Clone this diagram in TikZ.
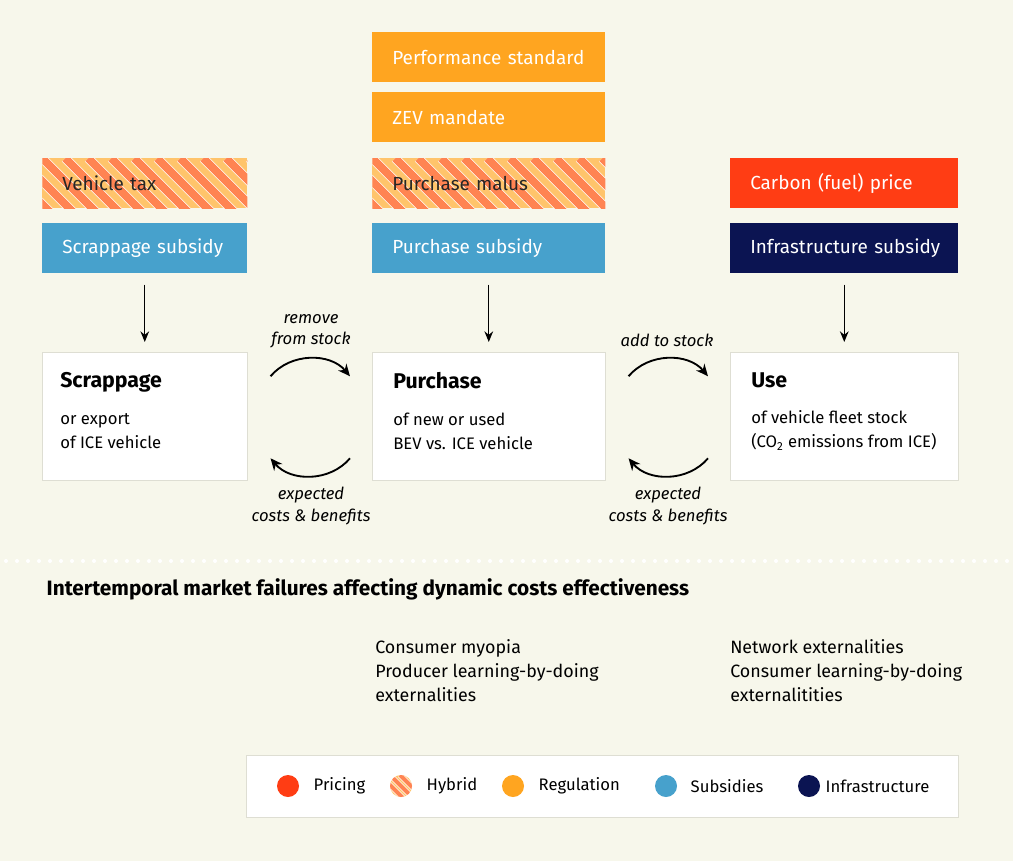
\documentclass[tikz,border=0pt]{standalone}
\usepackage{fontspec}
\setmainfont{Fira Sans}
\usetikzlibrary{arrows.meta}
\definecolor{paper}{HTML}{F7F7EB}
\definecolor{regul}{HTML}{FFA520}
\definecolor{pricing}{HTML}{FF3D14}
\definecolor{subs}{HTML}{47A1CC}
\definecolor{infra}{HTML}{0B1452}
\definecolor{hybdark}{HTML}{FF8452}
\definecolor{hyblight}{HTML}{FFC46B}
\definecolor{edge}{HTML}{DEDED3}
\newcommand{\stagettl}[1]{{\bfseries\fontsize{16}{18}\selectfont #1}}
\tikzset{
  policy/.style={anchor=north west, minimum height=37.5pt, inner xsep=15pt, inner ysep=0pt,
    align=left, text=white, font=\fontsize{14.2}{17}\selectfont},
  colA/.style={text width=123.75pt},
  colB/.style={text width=144.75pt},
  colC/.style={text width=141pt},
  hatch/.style n args={2}{fill=hyblight, path picture={
      \foreach \k in {-6,...,24}{
        \draw[white, line width=#2+1pt] ([xshift=\k*#1]path picture bounding box.north west) -- ++(70,70);
        \draw[hybdark, line width=#2] ([xshift=\k*#1]path picture bounding box.north west) -- ++(70,70);
      }}},
  stage/.style={anchor=north west, fill=white, draw=edge, minimum height=96pt},
  stagetxt/.style={anchor=north west, inner sep=0pt, align=left, font=\fontsize{12.5}{18}\selectfont},
  down/.style={->, >={Stealth[length=8pt,width=6.5pt]}, line width=1pt, shorten <=8.25pt, shorten >=7.5pt},
  cyc/.style={->, >={Stealth[length=9pt,width=8pt]}, line width=1.4pt},
  note/.style={align=center, font=\itshape\fontsize{12.5}{16}\selectfont},
  dot/.style={circle, minimum size=16.5pt, inner sep=0pt},
  lglbl/.style={anchor=west, font=\fontsize{12.5}{16}\selectfont}
}
\begin{document}
\begin{tikzpicture}[x=0.75pt,y=-0.75pt]
\useasboundingbox (0,0) rectangle (1013,861);
\fill[paper] (0,0) rectangle (1013,861);

%policy instruments
\node[policy, colA, hatch={17.25pt}{6pt}, text=black!85] (vtax) at (42,158) {Vehicle tax};
\node[policy, colA, fill=subs] (scrsub) at (42,223) {\mbox{Scrappage subsidy}};
\node[policy, colB, fill=regul] (perf) at (372,32) {\mbox{Performance standard}};
\node[policy, colB, fill=regul] (zev) at (372,92) {ZEV mandate};
\node[policy, colB, hatch={17.25pt}{6pt}, text=black!85] (malus) at (372,158) {Purchase malus};
\node[policy, colB, fill=subs] (pursub) at (372,223) {Purchase subsidy};
\node[policy, colC, fill=pricing] (carbon) at (730,158) {Carbon (fuel) price};
\node[policy, colC, fill=infra] (infsub) at (730,223) {\mbox{Infrastructure subsidy}};

%stages
\node[stage, minimum width=153.75pt] (scr) at (42,352) {};
\node[stage, minimum width=174.75pt] (pur) at (372,352) {};
\node[stage, minimum width=171pt] (use) at (730,352) {};
\node[stagetxt] (scrtxt) at (60,372) {\stagettl{Scrappage}\\[9.5pt]or export\\of ICE vehicle};
\node[stagetxt] (purtxt) at (393,372) {\stagettl{Purchase}\\[9.5pt]of new or used\\BEV vs. ICE vehicle};
\node[stagetxt] (usetxt) at (751,372) {\stagettl{Use}\\[9.5pt]of vehicle fleet stock\\(CO\textsubscript{2} emissions from ICE)};

\draw[down] (scrsub) -- (scr);
\draw[down] (pursub) -- (pur);
\draw[down] (infsub) -- (use);

%cycles between stages
\draw[cyc] ([shift={(23,-40)}]scr.east) to[bend left=50] ([shift={(-22,-40)}]pur.west);
\draw[cyc] ([shift={(-22,42)}]pur.west) to[bend left=50] ([shift={(23,42)}]scr.east);
\draw[cyc] ([shift={(23,-40)}]pur.east) to[bend left=50] ([shift={(-22,-40)}]use.west);
\draw[cyc] ([shift={(-22,42)}]use.west) to[bend left=50] ([shift={(23,42)}]pur.east);
\node[note] (rmv) at (311,331) {remove\\from stock};
\node[note] (exp1) at (311,506) {expected\\costs \& benefits};
\node[note] (add) at (667,340) {add to stock};
\node[note] (exp2) at (668,506) {expected\\costs \& benefits};

\draw[white, line width=3pt, line cap=round, dash pattern=on 0pt off 8.25pt] (6,561) -- (1013,561);

%market failures
\node[anchor=west, font=\bfseries\fontsize{15.6}{18}\selectfont] (head) at (42,589)
  {Intertemporal market failures affecting dynamic costs effectiveness};
\node[anchor=north west, align=left, inner sep=0pt, font=\fontsize{13.4}{18}\selectfont] (mfpur) at (375,639)
  {Consumer myopia\\Producer learning-by-doing\\externalities};
\node[anchor=north west, align=left, inner sep=0pt, font=\fontsize{13.4}{18}\selectfont] (mfuse) at (730,639)
  {Network externalities\\Consumer learning-by-doing\\externalitities};

%legend
\node[anchor=north west, fill=white, draw=edge, minimum width=534pt, minimum height=46.5pt] (legend) at (246,755) {};
\node[dot, fill=pricing] (lgpr) at (288,786) {};
\node[dot, hatch={7.5pt}{3pt}] (lghy) at (401,786) {};
\node[dot, fill=regul] (lgre) at (513,786) {};
\node[dot, fill=subs] (lgsu) at (666,786) {};
\node[dot, fill=infra] (lgin) at (809,786) {};
\node[lglbl] at (309,786) {Pricing};
\node[lglbl] at (422,786) {Hybrid};
\node[lglbl] at (534,786) {Regulation};
\node[lglbl] at (686,786) {Subsidies};
\node[lglbl] at (821,786) {Infrastructure};
\end{tikzpicture}
\end{document}
